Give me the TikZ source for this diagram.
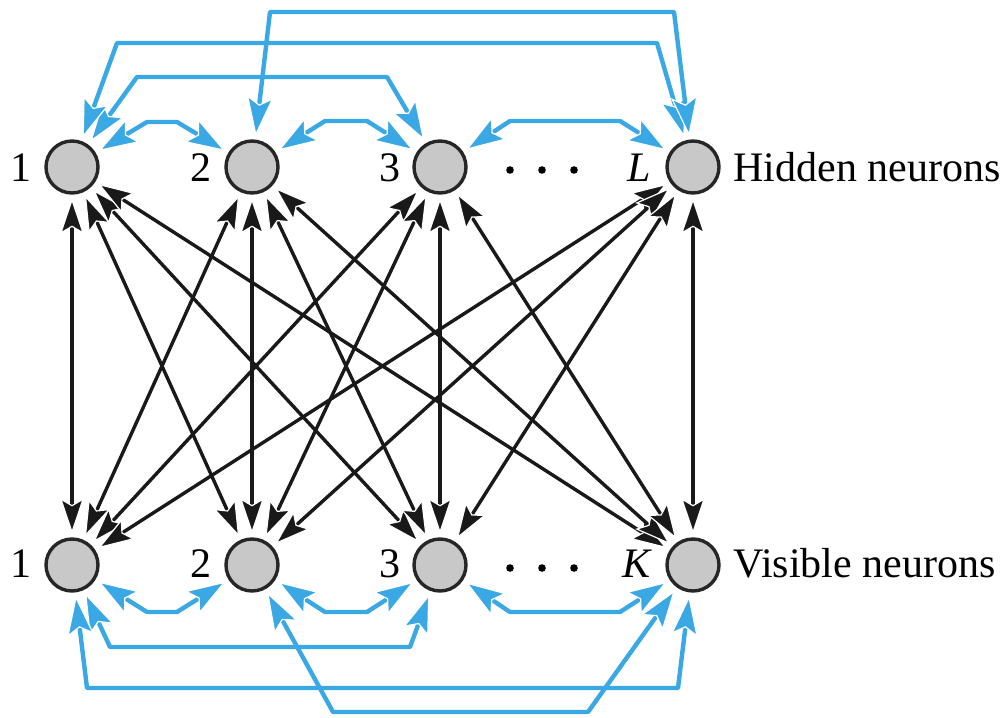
\documentclass[tikz,border=0pt]{standalone}
\usepackage{fontspec}
\setmainfont{Liberation Serif}
\usetikzlibrary{arrows.meta}
\definecolor{netblue}{RGB}{58,168,228}
\definecolor{nodegray}{RGB}{200,200,200}
\begin{document}
\begin{tikzpicture}[x=0.5pt,y=-0.5pt,
  neuron/.style={circle, draw=black!85, line width=1.7pt, fill=nodegray,
    minimum size=26pt, inner sep=0pt, outer sep=2.5pt},
  lbl/.style={inner sep=0pt, font=\fontsize{21pt}{24pt}\selectfont},
  dotc/.style={circle, fill=black, minimum size=3.8pt, inner sep=0pt},
  link/.style={line width=1.7pt, black!90, {Stealth[length=18pt,width=12pt,inset=3.5pt,color=white,fill=black!90,line width=0.6pt]}-{Stealth[length=18pt,width=12pt,inset=3.5pt,color=white,fill=black!90,line width=0.6pt]}},
  lateral/.style={line width=2.2pt, netblue, line join=round, {Stealth[length=20pt,width=13.5pt,inset=4pt,color=white,fill=netblue,line width=0.6pt]}-{Stealth[length=20pt,width=13.5pt,inset=4pt,color=white,fill=netblue,line width=0.6pt]}}]
\useasboundingbox (0,0) rectangle (1005,717);
% neurons
\node[neuron] (h1) at (72,167) {};
\node[neuron] (h2) at (252,167) {};
\node[neuron] (h3) at (440,167) {};
\node[neuron] (hL) at (693,167) {};
\node[neuron] (v1) at (72,565) {};
\node[neuron] (v2) at (252,565) {};
\node[neuron] (v3) at (440,565) {};
\node[neuron] (vK) at (693,565) {};
% labels
\node[lbl, anchor=base east] (lh1) at (32,181) {1};
\node[lbl, anchor=base east] (lh2) at (212,181) {2};
\node[lbl, anchor=base east] (lh3) at (401,181) {3};
\node[lbl, anchor=base east] (lhL) at (651,181) {\itshape L};
\node[lbl, anchor=base west] (th) at (733,181) {Hidden neurons};
\node[lbl, anchor=base east] (lv1) at (32,577) {1};
\node[lbl, anchor=base east] (lv2) at (212,577) {2};
\node[lbl, anchor=base east] (lv3) at (401,577) {3};
\node[lbl, anchor=base east] (lvK) at (651,577) {\itshape K};
\node[lbl, anchor=base west] (tv) at (733,577) {Visible neurons};
% dots
\node[dotc] (d1) at (510,170) {};
\node[dotc] (d2) at (542,170) {};
\node[dotc] (d3) at (574,170) {};
\node[dotc] (e1) at (510,568) {};
\node[dotc] (e2) at (542,568) {};
\node[dotc] (e3) at (574,568) {};
% symmetric connections between layers
\foreach \a in {h1,h2,h3,hL}
  \foreach \b in {v1,v2,v3,vK}
    \draw[link] (\a) -- (\b);
% lateral connections, hidden layer
\draw[lateral] (h1) -- (147,122) -- (177,122) -- (h2);
\draw[lateral] (h2) -- (325,121) -- (367,121) -- (h3);
\draw[lateral] (h3) -- (510,121) -- (620,121) -- (hL);
\draw[lateral] (h1) -- (137,77) -- (387,77) -- (h3);
\draw[lateral] (h1) -- (117,43) -- (657,43) -- (hL);
\draw[lateral] (h2) -- (270,12) -- (674,12) -- (hL);
% lateral connections, visible layer
\draw[lateral] (v1) -- (147,612) -- (177,612) -- (v2);
\draw[lateral] (v2) -- (325,612) -- (367,612) -- (v3);
\draw[lateral] (v3) -- (510,612) -- (620,612) -- (vK);
\draw[lateral] (v1) -- (110,647) -- (410,647) -- (v3);
\draw[lateral] (v1) -- (87,688) -- (678,688) -- (vK);
\draw[lateral] (v2) -- (333,712) -- (588,712) -- (vK);
\end{tikzpicture}
\end{document}
